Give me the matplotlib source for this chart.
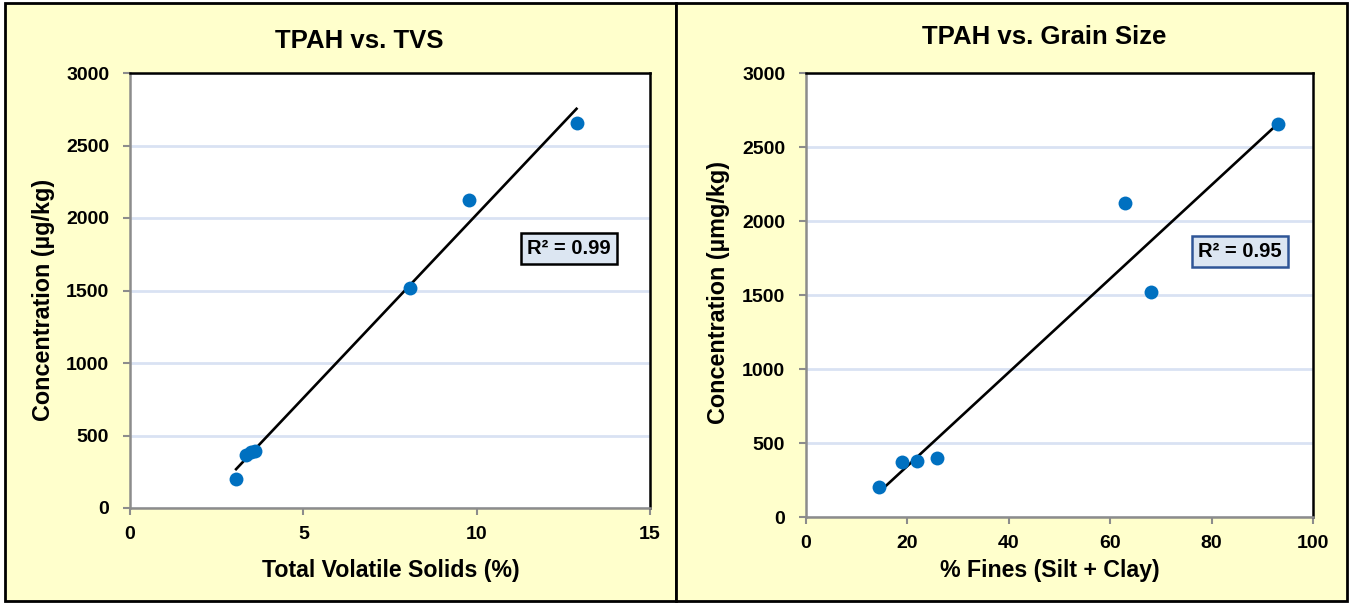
import numpy as np
import matplotlib
matplotlib.use("Agg")
import matplotlib.pyplot as plt
from matplotlib.patches import Rectangle

plt.rcParams['font.family'] = ['Liberation Sans', 'DejaVu Sans']
plt.rcParams['font.weight'] = 'bold'

# Data
tvs = [3.06, 3.36, 3.48, 3.6, 8.07, 9.77, 12.88]
fines = [14.4, 19.0, 21.8, 25.9, 63.0, 68.1, 93.0]
tpah_tvs = [203, 365, 385, 396, 1520, 2122, 2654]
tpah_fines = [203, 369, 377, 397, 2122, 1519, 2654]

titles = ["TPAH vs. TVS", "TPAH vs. Grain Size"]
xlabels = ["Total Volatile Solids (%)", "% Fines (Silt + Clay)"]
ylabels = ["Concentration (\u00b5g/kg)", "Concentration (\u00b5mg/kg)"]
r2_labels = ["R\u00b2 = 0.99", "R\u00b2 = 0.95"]
xticks_list = [[0, 5, 10, 15], [0, 20, 40, 60, 80, 100]]
yticks = [0, 500, 1000, 1500, 2000, 2500, 3000]

W, H = 1350, 603
fig = plt.figure(figsize=(W / 100, H / 100), dpi=100)
fig.patch.set_facecolor('white')

def fx(px):
    return px / W

def fy(py):
    return 1 - py / H

# panels
for x0, x1 in [(5, 676), (676, 1347)]:
    fig.patches.append(Rectangle((fx(x0), fy(601)), fx(x1 - x0), (601 - 3) / H,
                                 transform=fig.transFigure, facecolor='#FFFFCC',
                                 edgecolor='black', linewidth=2, zorder=-10))

axes_px = [(130, 650, 73, 508), (806, 1313, 73, 517)]
datasets = [(tvs, tpah_tvs), (fines, tpah_fines)]
title_pos = [(359, 41), (1044, 37)]
xlabel_pos = [(391, 571), (1050, 571)]
ylabel_pos = [(44, 300), (719, 293)]
box_pos = [(0.844, 0.597), (0.856, 0.598)]
box_edge = ['black', '#2F5597']
xlims = [(0, 15), (0, 100)]

for i in range(2):
    l, r, t, b = axes_px[i]
    ax = fig.add_axes([fx(l), fy(b), (r - l) / W, (b - t) / H])
    ax.set_zorder(1)
    ax.set_facecolor('white')
    x, y = datasets[i]
    x = np.array(x); y = np.array(y)
    ax.set_xlim(*xlims[i])
    ax.set_ylim(0, 3000)
    ax.set_xticks(xticks_list[i])
    ax.set_yticks(yticks)
    ax.grid(axis='y', color='#D9E2F3', linewidth=2)
    ax.set_axisbelow(True)
    for s in ['left', 'bottom']:
        ax.spines[s].set_color('#8C8C8C')
        ax.spines[s].set_linewidth(1.8)
    for s in ['top', 'right']:
        ax.spines[s].set_color('black')
        ax.spines[s].set_linewidth(1.8)
    ax.tick_params(direction='out', length=5, width=1.5, color='#8C8C8C',
                   labelsize=14)
    ax.tick_params(axis='y', pad=10)
    ax.tick_params(axis='x', pad=8)
    for lab in ax.get_xticklabels() + ax.get_yticklabels():
        lab.set_fontweight('bold')
    # trendline
    m, c = np.polyfit(x, y, 1)
    xs = np.array([x.min(), x.max()])
    ax.plot(xs, m * xs + c, color='black', linewidth=1.9, zorder=2)
    ax.scatter(x, y, s=100, color='#0070C0', zorder=3, linewidths=0)
    ax.text(box_pos[i][0], box_pos[i][1], r2_labels[i], transform=ax.transAxes,
            ha='center', va='center', fontsize=14.5, fontweight='bold',
            bbox=dict(boxstyle='square,pad=0.3', facecolor='#DCE6F2',
                      edgecolor=box_edge[i], linewidth=1.8))
    fig.text(fx(title_pos[i][0]), fy(title_pos[i][1]), titles[i], ha='center',
             va='center', fontsize=18.5, fontweight='bold')
    fig.text(fx(xlabel_pos[i][0]), fy(xlabel_pos[i][1]), xlabels[i], ha='center',
             va='center', fontsize=16.7, fontweight='bold')
    fig.text(fx(ylabel_pos[i][0]), fy(ylabel_pos[i][1]), ylabels[i], ha='center',
             va='center', fontsize=16.8, fontweight='bold', rotation=90)

fig.savefig('out.png', dpi=100)
